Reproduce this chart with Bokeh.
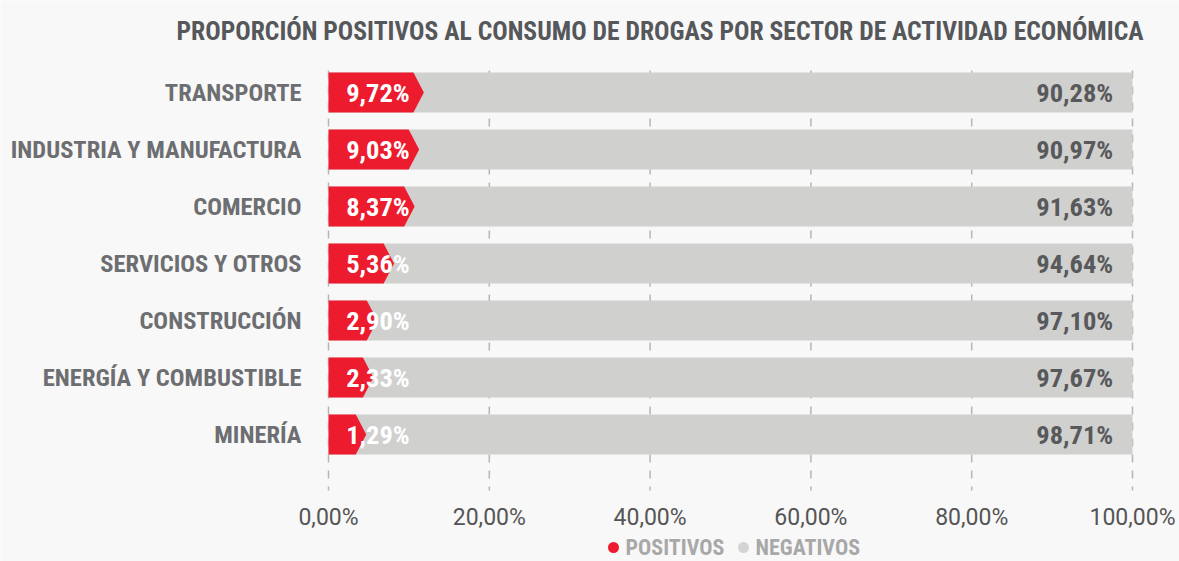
from bokeh.plotting import figure
from bokeh.models import Range1d, ColumnDataSource
from bokeh.core.properties import value
from bokeh.embed import file_html
from bokeh.resources import INLINE

sectores = ["TRANSPORTE", "INDUSTRIA Y MANUFACTURA", "COMERCIO", "SERVICIOS Y OTROS",
            "CONSTRUCCIÓN", "ENERGÍA Y COMBUSTIBLE", "MINERÍA"]
positivos = [9.72, 9.03, 8.37, 5.36, 2.90, 2.33, 1.29]
negativos = [90.28, 90.97, 91.63, 94.64, 97.10, 97.67, 98.71]
x_ticks = [0, 20, 40, 60, 80, 100]
series = ["POSITIVOS", "NEGATIVOS"]
titulo = "PROPORCIÓN POSITIVOS AL CONSUMO DE DROGAS POR SECTOR DE ACTIVIDAD ECONÓMICA"

RED = "#ed1b2e"
GRAY = "#d0d0cf"
BG = "#f8f8f8"
COND = "Roboto Condensed"

def pct(v):
    return f"{v:.2f}%".replace(".", ",")

# layout (x in percent units, y in row units; rows 0..6 from the top)
PX_X = 8.04            # pixels per percent
PX_Y = 57.0            # pixels per row
X0_PX, Y0_PX = 328, 92  # pixel position of x=0 and of the first row centre
W, H = 1179, 561
x_start, x_end = -X0_PX / PX_X, (W - X0_PX) / PX_X
y_top, y_bot = -Y0_PX / PX_Y, (H - Y0_PX) / PX_Y

def ypix(px):
    return (px - Y0_PX) / PX_Y

def xpix(px):
    return (px - X0_PX) / PX_X

ys = list(range(len(sectores)))

p = figure(width=W, height=H, output_backend="svg", toolbar_location=None,
           x_range=Range1d(x_start, x_end), y_range=Range1d(y_bot, y_top),
           min_border=0, background_fill_color=BG, border_fill_color=BG, outline_line_color=None)
p.axis.visible = False
p.grid.grid_line_color = None

# title
p.text(x=[xpix(176)], y=[ypix(30)], text=[titulo], text_font=value(COND), text_font_size="25.6px",
       text_font_style="bold", text_color="#55575a", text_baseline="middle", text_align="left")

# dashed grid
n = len(x_ticks)
p.segment(x0=x_ticks, y0=[ypix(70)] * n, x1=x_ticks, y1=[ypix(490)] * n,
          line_color="#b5b5b5", line_dash="8 8", line_width=1.5)

# background gray bars (full)
tot = [a + b for a, b in zip(positivos, negativos)]
p.hbar(y=ys, left=0, right=tot, height=0.70, color=GRAY, line_color=None)

# red chevron bars
h = 0.35
xs, yss = [], []
for y, v in zip(ys, positivos):
    body = v * 0.85 + 2.3
    tip = body + 1.3
    xs.append([0, body, tip, body, 0])
    yss.append([y - h, y - h, y, y + h, y + h])
p.patches(xs, yss, color=RED, line_color=None)

# category and value labels
src = ColumnDataSource(dict(y=ys, s=sectores, p=[pct(v) for v in positivos],
                            n=[pct(v) for v in negativos],
                            xc=[xpix(301)] * len(ys), x0=[2.2] * len(ys), x1=[97.6] * len(ys)))
p.text(x="xc", y="y", text="s", source=src, text_font=value(COND), text_font_size="24.5px",
       text_font_style="bold", text_color="#6d6e71", text_baseline="middle", text_align="right")
p.text(x="x0", y="y", text="p", source=src, text_font=value(COND), text_font_size="26.5px",
       text_font_style="bold", text_color="white", text_baseline="middle", text_align="left")
p.text(x="x1", y="y", text="n", source=src, text_font=value(COND), text_font_size="26.5px",
       text_font_style="bold", text_color="#58595b", text_baseline="middle", text_align="right")

# x tick labels
p.text(x=x_ticks, y=[ypix(517)] * n, text=[pct(t) for t in x_ticks],
       text_font=value("Roboto"), text_font_size="23px", text_color="#555555",
       text_baseline="middle", text_align="center")

# legend
ly = ypix(547)
p.scatter(x=[xpix(613), xpix(743)], y=[ly, ly], size=11, color=[RED, "#d4d4d4"], line_color=None)
p.text(x=[xpix(625), xpix(755)], y=[ly, ly], text=series, text_font=value(COND),
       text_font_size="22px", text_font_style="bold", text_color="#a8a8a8",
       text_baseline="middle", text_align="left")

open("out.html", "w").write(file_html(p, INLINE))
